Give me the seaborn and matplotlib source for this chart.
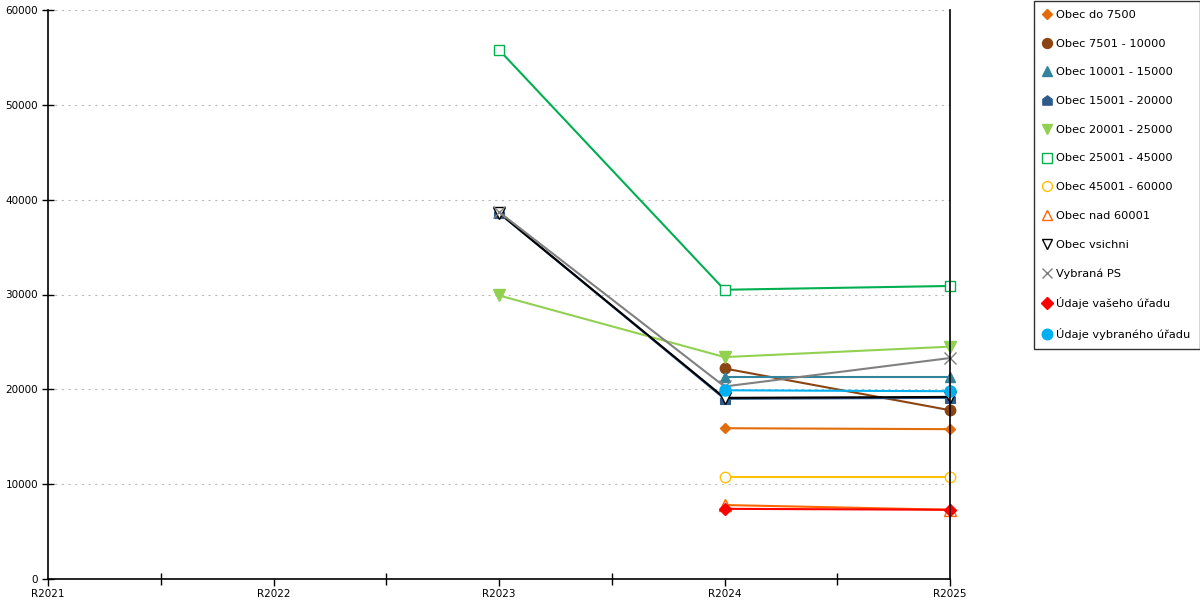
import numpy as np
import pandas as pd
import matplotlib
matplotlib.use("Agg")
import matplotlib.pyplot as plt
from matplotlib.path import Path
from matplotlib.ticker import MultipleLocator, FixedLocator
import seaborn as sns

years = ["R2021", "R2022", "R2023", "R2024", "R2025"]
nan = np.nan

series_names = [
    "Obec do 7500",
    "Obec 7501 - 10000",
    "Obec 10001 - 15000",
    "Obec 15001 - 20000",
    "Obec 20001 - 25000",
    "Obec 25001 - 45000",
    "Obec 45001 - 60000",
    "Obec nad 60001",
    "Obec vsichni",
    "Vybraná PS",
    "Údaje vašeho úřadu",
    "Údaje vybraného úřadu",
]

obec_do_7500 = [nan, nan, nan, 15900, 15800]
obec_7501_10000 = [nan, nan, nan, 22200, 17800]
obec_10001_15000 = [nan, nan, nan, 21300, 21300]
obec_15001_20000 = [nan, nan, 38600, 19000, 19100]
obec_20001_25000 = [nan, nan, 29900, 23400, 24500]
obec_25001_45000 = [nan, nan, 55800, 30500, 30900]
obec_45001_60000 = [nan, nan, nan, 10800, 10800]
obec_nad_60001 = [nan, nan, nan, 7800, 7300]
obec_vsichni = [nan, nan, 38600, 19100, 19200]
vybrana_ps = [nan, nan, 38700, 20300, 23300]
udaje_vaseho = [nan, nan, nan, 7400, 7300]
udaje_vybraneho = [nan, nan, nan, 19900, 19800]

values = [obec_do_7500, obec_7501_10000, obec_10001_15000, obec_15001_20000,
          obec_20001_25000, obec_25001_45000, obec_45001_60000, obec_nad_60001,
          obec_vsichni, vybrana_ps, udaje_vaseho, udaje_vybraneho]

house = Path([(-1, -1), (1, -1), (1, 0.25), (0, 1), (-1, 0.25), (-1, -1)],
             [Path.MOVETO, Path.LINETO, Path.LINETO, Path.LINETO, Path.LINETO, Path.CLOSEPOLY])

# (color, marker, filled, markersize)
styles = [
    ("#E36C0A", "D", True, 5.5),
    ("#8B4513", "o", True, 7.5),
    ("#31849B", "^", True, 7.5),
    ("#2F5A8C", house, True, 7),
    ("#92D050", "v", True, 8),
    ("#00B050", "s", False, 7.5),
    ("#FFC000", "o", False, 7.5),
    ("#FF6600", "^", False, 8),
    ("#000000", "v", False, 8),
    ("#808080", "x", False, 8),
    ("#FF0000", "D", True, 6),
    ("#00B0F0", "o", True, 8),
]

rows = []
for name, vals in zip(series_names, values):
    for i, v in enumerate(vals):
        rows.append({"series": name, "x": i, "value": v})
df = pd.DataFrame(rows)

sns.set_theme(style="white")
plt.rcParams["font.family"] = ["DejaVu Sans"]
plt.rcParams["text.color"] = "black"
plt.rcParams["xtick.color"] = "black"
plt.rcParams["ytick.color"] = "black"

fig = plt.figure(figsize=(12, 6), dpi=100)
ax = fig.add_axes([48 / 1200, 21 / 600, 902 / 1200, 569 / 600])

handles = []
for name, (color, marker, filled, ms) in zip(series_names, styles):
    sub = df[df["series"] == name].dropna()
    mfc = color if filled else "white"
    if marker == "x":
        mfc = color
    sns.lineplot(data=sub, x="x", y="value", ax=ax, color=color, linewidth=1.5,
                 marker=marker, markersize=ms, markerfacecolor=mfc,
                 markeredgecolor=color, markeredgewidth=1.0, legend=False,
                 clip_on=False, zorder=3)
    h = plt.Line2D([], [], linestyle="none", marker=marker, markersize=ms * 0.95,
                   markerfacecolor=mfc, markeredgecolor=color, markeredgewidth=1.0)
    handles.append(h)

ax.set_xlim(0, 4)
ax.set_ylim(0, 60000)
ax.set_xticks(range(len(years)))
ax.set_xticklabels(years, fontsize=7.5)
ax.xaxis.set_minor_locator(FixedLocator([0.5, 1.5, 2.5, 3.5]))
ax.yaxis.set_major_locator(MultipleLocator(10000))
ax.tick_params(axis="y", labelsize=7.5, direction="inout", length=8, width=1, color="black", left=True, pad=3)
ax.tick_params(axis="x", which="major", direction="out", length=5, width=1, color="black", bottom=True, pad=2)
ax.tick_params(axis="x", which="minor", direction="inout", length=8, width=1, color="black", bottom=True)
ax.set_xlabel("")
ax.set_ylabel("")
ax.grid(axis="y", linestyle=(0, (2, 4)), color="#BBBBBB", linewidth=0.8)
ax.set_axisbelow(True)

for side in ["left", "bottom", "right"]:
    ax.spines[side].set_visible(True)
    ax.spines[side].set_color("black")
    ax.spines[side].set_linewidth(1.2)
    ax.spines[side].set_zorder(5)
ax.spines["top"].set_visible(False)

leg = fig.legend(handles, series_names, loc="upper left",
                 bbox_to_anchor=(1034 / 1200, 1 - 1 / 600), fontsize=8.2,
                 frameon=True, fancybox=False, edgecolor="black",
                 labelspacing=1.64, handlelength=0.6, handletextpad=0.55,
                 borderpad=0.8, borderaxespad=0)
leg.get_frame().set_linewidth(1.0)
for t in leg.get_texts():
    t.set_color("black")

fig.savefig("out.png", dpi=100)
